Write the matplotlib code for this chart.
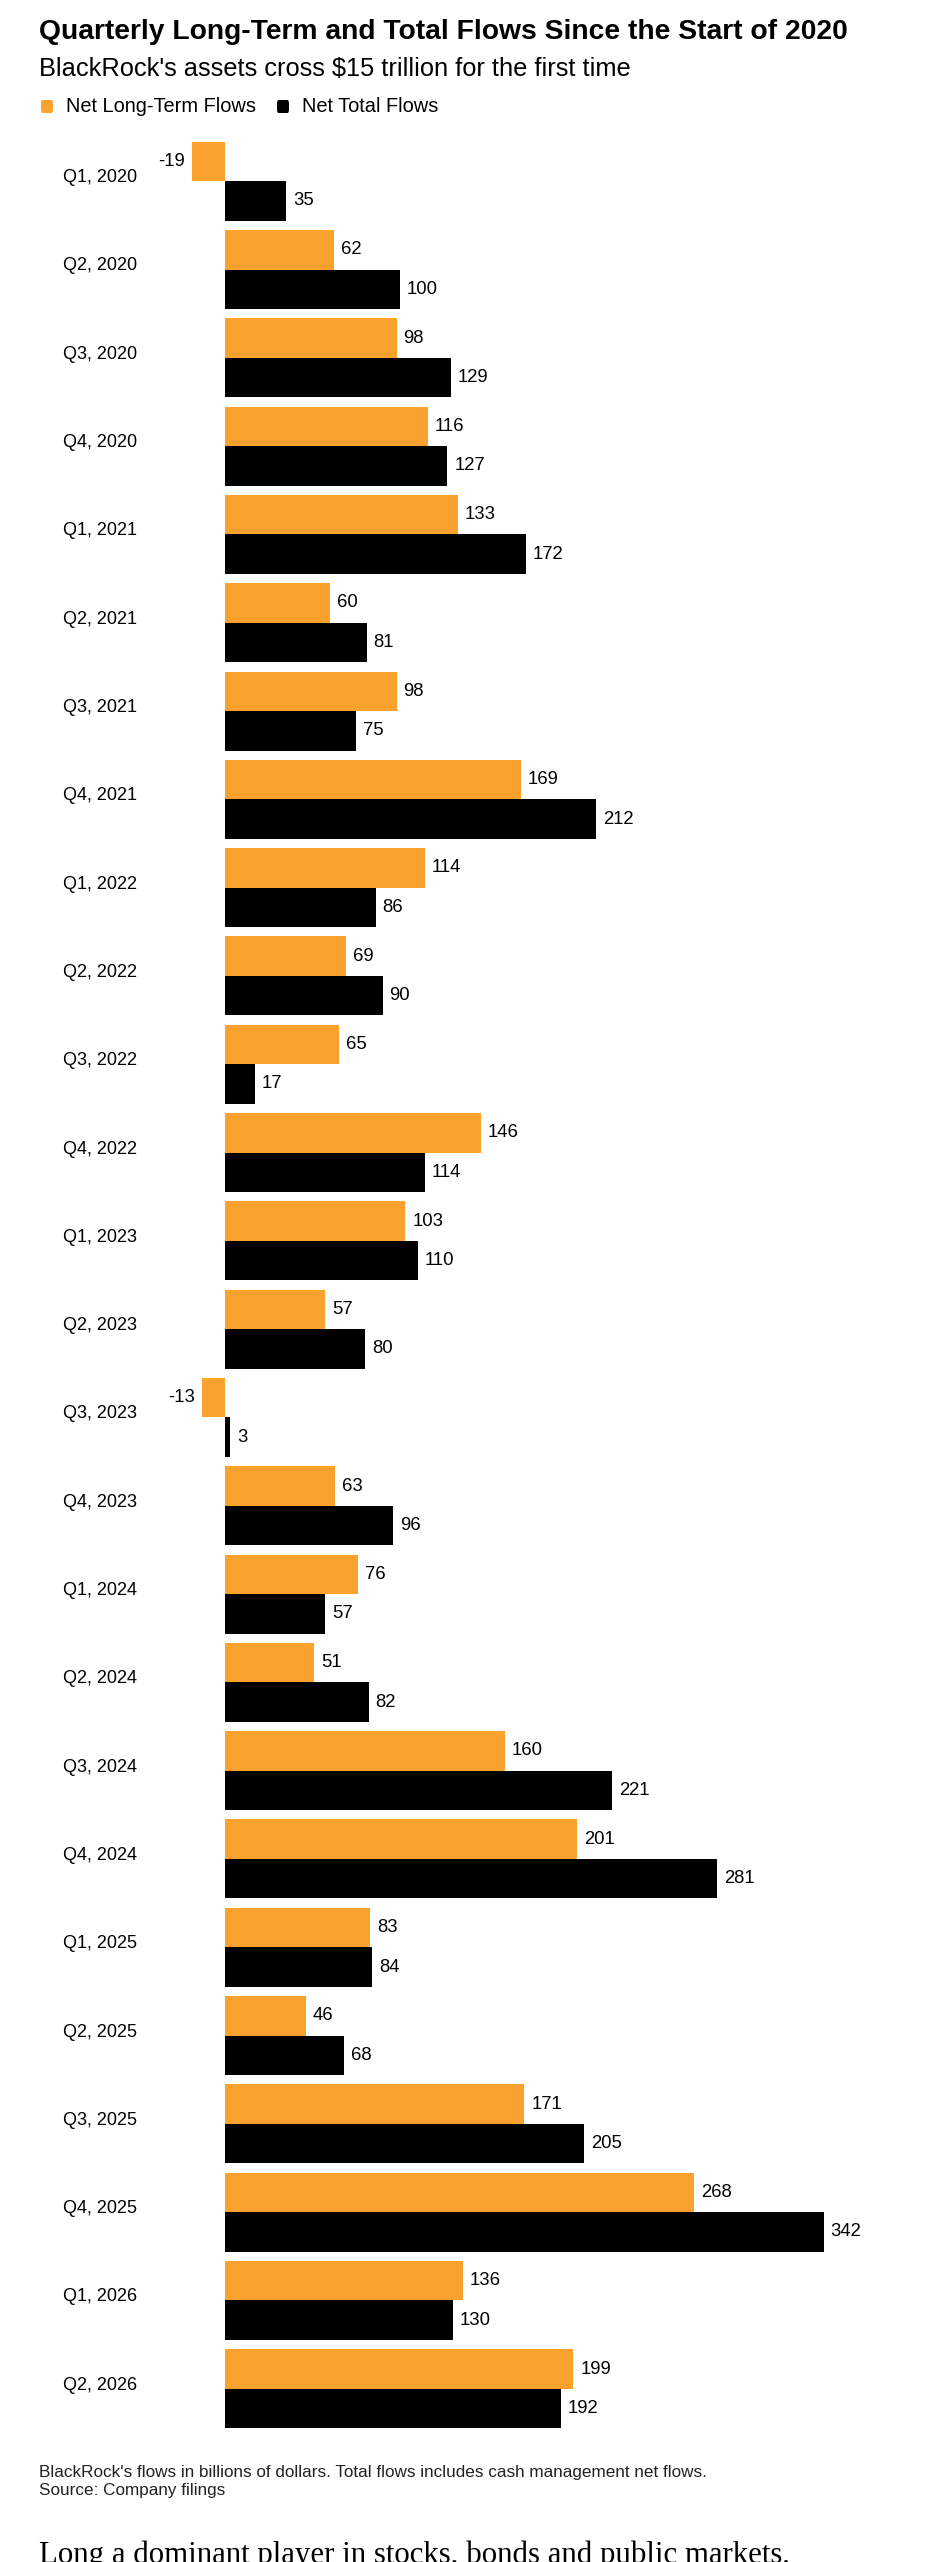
import numpy as np
import matplotlib
matplotlib.use("Agg")
import matplotlib.pyplot as plt
from matplotlib.patches import FancyBboxPatch

quarters = ["Q1, 2020", "Q2, 2020", "Q3, 2020", "Q4, 2020",
            "Q1, 2021", "Q2, 2021", "Q3, 2021", "Q4, 2021",
            "Q1, 2022", "Q2, 2022", "Q3, 2022", "Q4, 2022",
            "Q1, 2023", "Q2, 2023", "Q3, 2023", "Q4, 2023",
            "Q1, 2024", "Q2, 2024", "Q3, 2024", "Q4, 2024",
            "Q1, 2025", "Q2, 2025", "Q3, 2025", "Q4, 2025",
            "Q1, 2026", "Q2, 2026"]
long_term = [-19, 62, 98, 116, 133, 60, 98, 169, 114, 69, 65, 146, 103,
             57, -13, 63, 76, 51, 160, 201, 83, 46, 171, 268, 136, 199]
total = [35, 100, 129, 127, 172, 81, 75, 212, 86, 90, 17, 114, 110,
         80, 3, 96, 57, 82, 221, 281, 84, 68, 205, 342, 130, 192]

ORANGE = "#FBA12D"
W, H = 927, 2562
sans = ["Liberation Sans", "DejaVu Sans"]
serif = ["Liberation Serif", "DejaVu Serif"]

fig = plt.figure(figsize=(W / 100, H / 100), dpi=100)
fig.patch.set_facecolor("white")

def fx(px):
    return px / W

def fy(py):
    return 1 - py / H

# axes: x=0 at 225px, 1.75 px per unit; group pitch 88.3px
ax_left, ax_right = 137, 900
ax_top, ax_bot = 130, 2440
ax = fig.add_axes([fx(ax_left), fy(ax_bot), (ax_right - ax_left) / W, (ax_bot - ax_top) / H])
ax.set_xlim(-(225 - ax_left) / 1.75, (ax_right - 225) / 1.75)
n = len(quarters)
ax.set_ylim(n - 1 + 0.58, -0.58)

y = np.arange(n)
h = 0.447
ax.barh(y - h / 2, long_term, height=h, color=ORANGE, linewidth=0)
ax.barh(y + h / 2, total, height=h, color="black", linewidth=0)

for i in range(n):
    for val, yy in ((long_term[i], y[i] - h / 2), (total[i], y[i] + h / 2)):
        if val < 0:
            ax.text(val - 4, yy, str(val), ha="right", va="center",
                    fontsize=13.3, family=sans, color="black")
        else:
            ax.text(val + 4, yy, str(val), ha="left", va="center",
                    fontsize=13.3, family=sans, color="black")
    ax.text(-50.3, y[i] - 0.04, quarters[i], ha="right", va="center",
            fontsize=13, family=sans, color="black")

ax.axis("off")

# header
fig.text(fx(39), fy(32), "Quarterly Long-Term and Total Flows Since the Start of 2020",
         ha="left", va="center", fontsize=20.3, fontweight="bold", family=sans)
fig.text(fx(39), fy(69), "BlackRock's assets cross $15 trillion for the first time",
         ha="left", va="center", fontsize=18.3, family=sans)

# legend
def legend_box(x0, color):
    fig.patches.append(FancyBboxPatch(
        (fx(x0), fy(113)), fx(12), 13 / H,
        boxstyle="round,pad=0,rounding_size=0.0015",
        transform=fig.transFigure, color=color, linewidth=0))

legend_box(41, ORANGE)
fig.text(fx(66), fy(106), "Net Long-Term Flows", ha="left", va="center",
         fontsize=14.4, family=sans)
legend_box(277, "black")
fig.text(fx(302), fy(106), "Net Total Flows", ha="left", va="center",
         fontsize=14.4, family=sans)

# footer
fig.text(fx(39), fy(2472), "BlackRock's flows in billions of dollars. Total flows includes cash management net flows.",
         ha="left", va="center", fontsize=12.3, family=sans, color="#222222")
fig.text(fx(39), fy(2490), "Source: Company filings",
         ha="left", va="center", fontsize=12.3, family=sans, color="#222222")

fig.text(fx(39), fy(2562.5), "Long a dominant player in stocks, bonds and public markets,",
         ha="left", va="baseline", fontsize=22.2, family=serif)

fig.savefig("out.png", dpi=100, facecolor="white")
